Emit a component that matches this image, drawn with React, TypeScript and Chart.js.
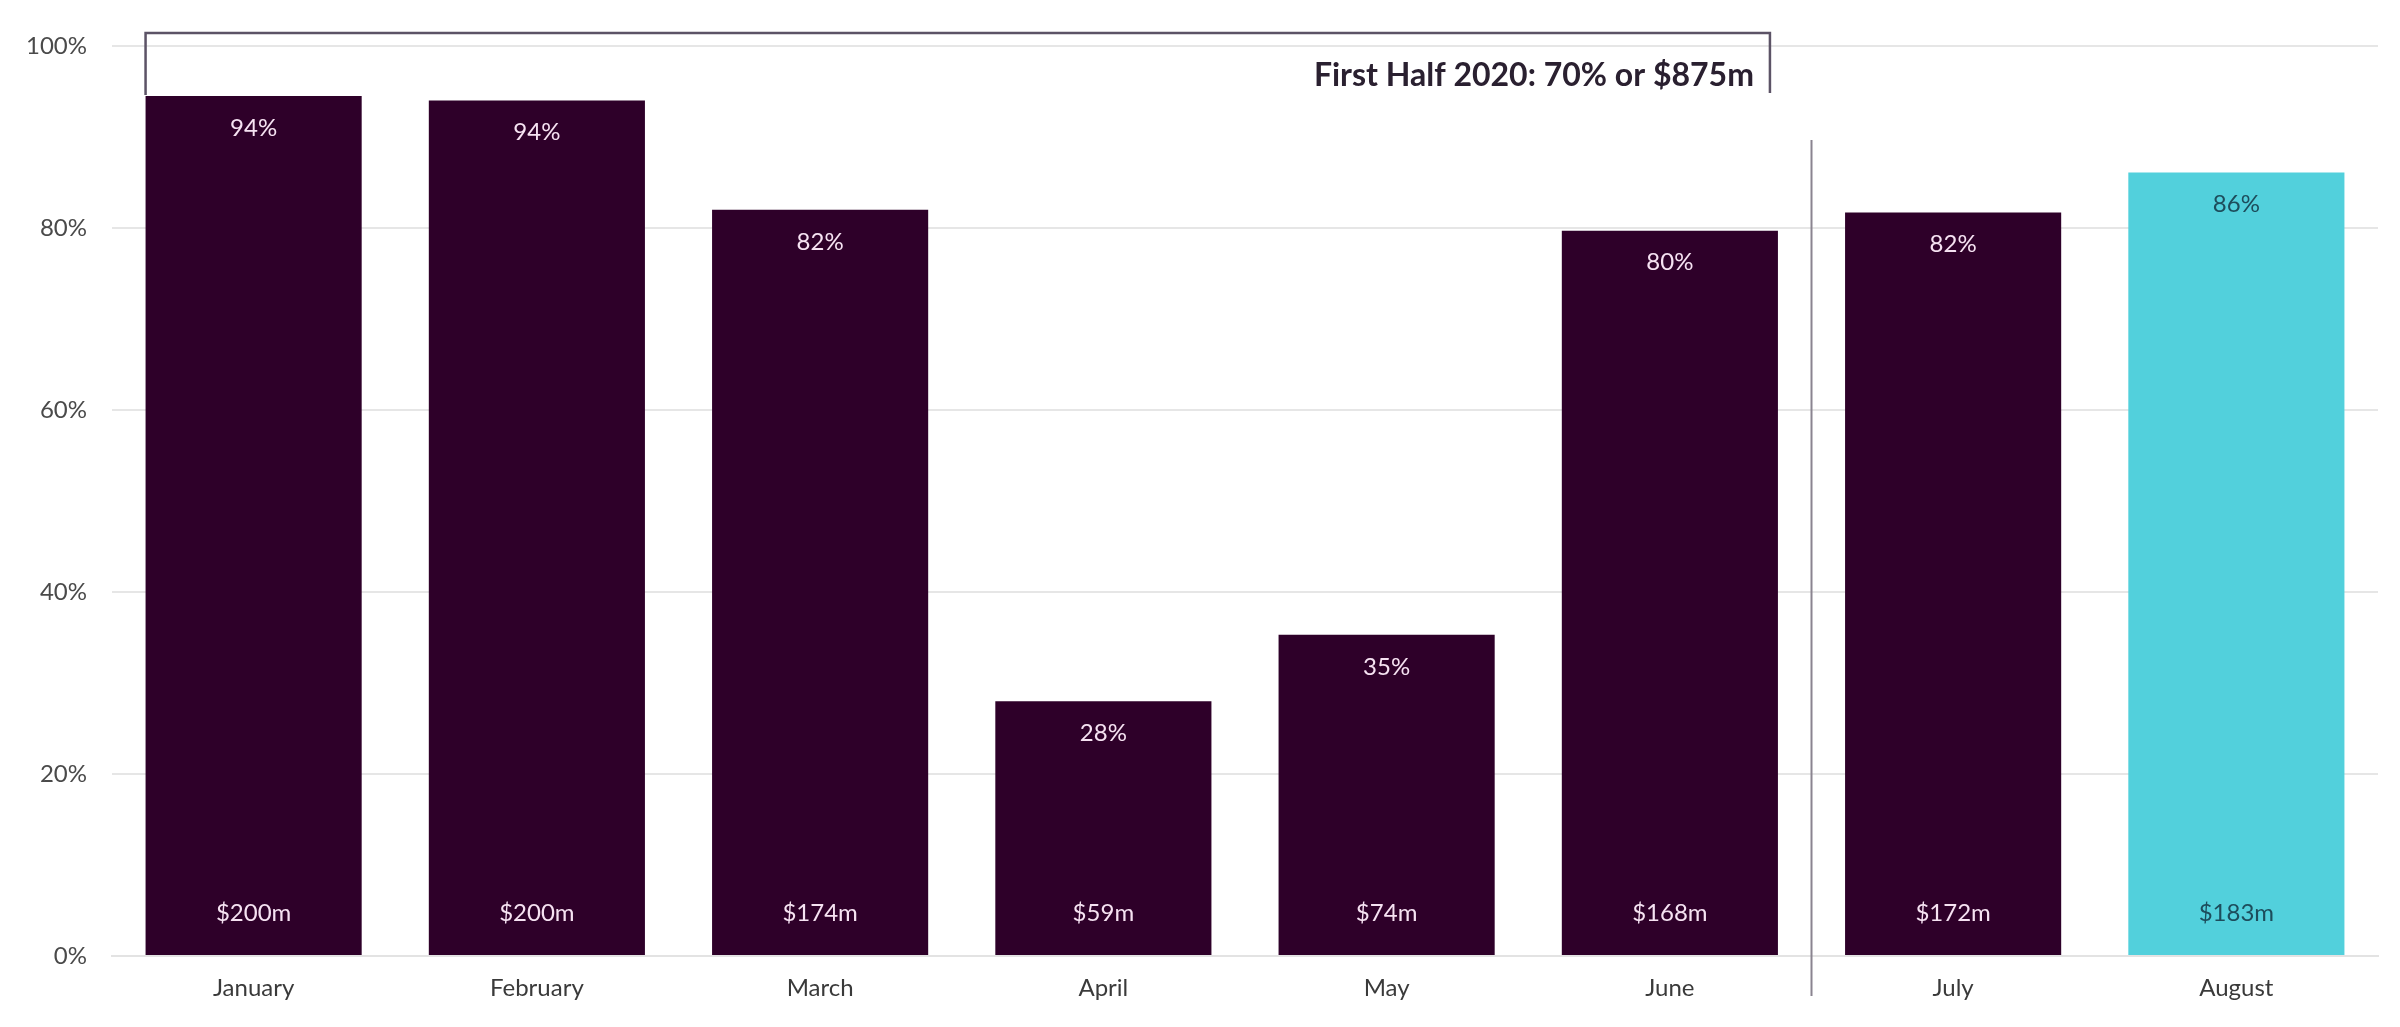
import React, { useEffect, useRef } from "react";
import { Chart, registerables } from "chart.js";

Chart.register(...registerables);

const months = ["January", "February", "March", "April", "May", "June", "July", "August"];
const occupancy = [94.5, 94, 82, 28, 35.3, 79.7, 81.7, 86.1];
const pctLabels = ["94%", "94%", "82%", "28%", "35%", "80%", "82%", "86%"];
const dollarLabels = ["$200m", "$200m", "$174m", "$59m", "$74m", "$168m", "$172m", "$183m"];
const barColors = ["#2e0029", "#2e0029", "#2e0029", "#2e0029", "#2e0029", "#2e0029", "#2e0029", "#52d0dc"];
const labelColors = ["#f6e2f2", "#f6e2f2", "#f6e2f2", "#f6e2f2", "#f6e2f2", "#f6e2f2", "#f6e2f2", "#1d4d5c"];
const yTicks = [0, 20, 40, 60, 80, 100];
const bracketText = "First Half 2020: 70% or $875m";
const bracketFirst = 0;
const bracketLast = 5;
const separatorAfter = 5;

const FONT = "Lato, 'Open Sans', sans-serif";

const overlayPlugin = {
  id: "overlay",
  afterDatasetsDraw(chart: any) {
    const ctx = chart.ctx;
    const meta = chart.getDatasetMeta(0);
    const yScale = chart.scales.y;
    const xScale = chart.scales.x;
    ctx.save();
    // labels in bars
    meta.data.forEach((bar: any, i: number) => {
      ctx.fillStyle = labelColors[i];
      ctx.font = `24px ${FONT}`;
      ctx.textAlign = "center";
      ctx.textBaseline = "middle";
      ctx.fillText(pctLabels[i], bar.x, bar.y + 32);
      ctx.fillText(dollarLabels[i], bar.x, yScale.getPixelForValue(0) - 43);
    });
    // separator
    const sx = (xScale.getPixelForValue(separatorAfter) + xScale.getPixelForValue(separatorAfter + 1)) / 2;
    ctx.strokeStyle = "#8a8490";
    ctx.lineWidth = 2;
    ctx.beginPath();
    ctx.moveTo(sx, 140);
    ctx.lineTo(sx, 996);
    ctx.stroke();
    // bracket
    const b0 = meta.data[bracketFirst];
    const b1 = meta.data[bracketLast];
    const left = b0.x - b0.width / 2;
    const right = b1.x + b1.width / 2 - 8;
    const top = 33;
    ctx.strokeStyle = "#5c5366";
    ctx.lineWidth = 2.5;
    ctx.beginPath();
    ctx.moveTo(left, 95);
    ctx.lineTo(left, top);
    ctx.lineTo(right, top);
    ctx.lineTo(right, 93);
    ctx.stroke();
    ctx.fillStyle = "#2a2030";
    ctx.font = `bold 32px ${FONT}`;
    ctx.textAlign = "right";
    ctx.textBaseline = "middle";
    ctx.fillText(bracketText, right - 16, 76);
    ctx.restore();
  },
};

export default function App() {
  const ref = useRef<HTMLCanvasElement>(null);
  useEffect(() => {
    document.body.style.margin = "0";
    const chart = new Chart(ref.current as HTMLCanvasElement, {
      type: "bar",
      data: {
        labels: months,
        datasets: [
          {
            data: occupancy,
            backgroundColor: barColors,
            barPercentage: 0.763,
            categoryPercentage: 1,
          },
        ],
      },
      options: {
        animation: false,
        responsive: false,
        layout: { padding: { top: 46, right: 22, left: 0, bottom: 0 } },
        plugins: { legend: { display: false }, tooltip: { enabled: false } },
        scales: {
          x: {
            grid: { display: false, drawTicks: false },
            border: { color: "#e3e3e3", width: 2 },
            ticks: { color: "#3a3a3a", font: { family: FONT, size: 24 }, padding: 18 },
            afterFit(scale: any) {
              scale.height = 71;
            },
          },
          y: {
            min: 0,
            max: 100,
            afterBuildTicks(scale: any) {
              scale.ticks = yTicks.map((v) => ({ value: v }));
            },
            grid: { color: "#e6e6e6", lineWidth: 2, drawTicks: false },
            border: { display: false },
            ticks: {
              color: "#4a4a4a",
              font: { family: FONT, size: 24 },
              padding: 25,
              callback: (v: any) => `${v}%`,
            },
            afterFit(scale: any) {
              scale.width = 112;
            },
          },
        },
      },
      plugins: [overlayPlugin],
    });
    return () => chart.destroy();
  }, []);
  return <canvas ref={ref} width={2400} height={1027} style={{ display: "block" }} />;
}
